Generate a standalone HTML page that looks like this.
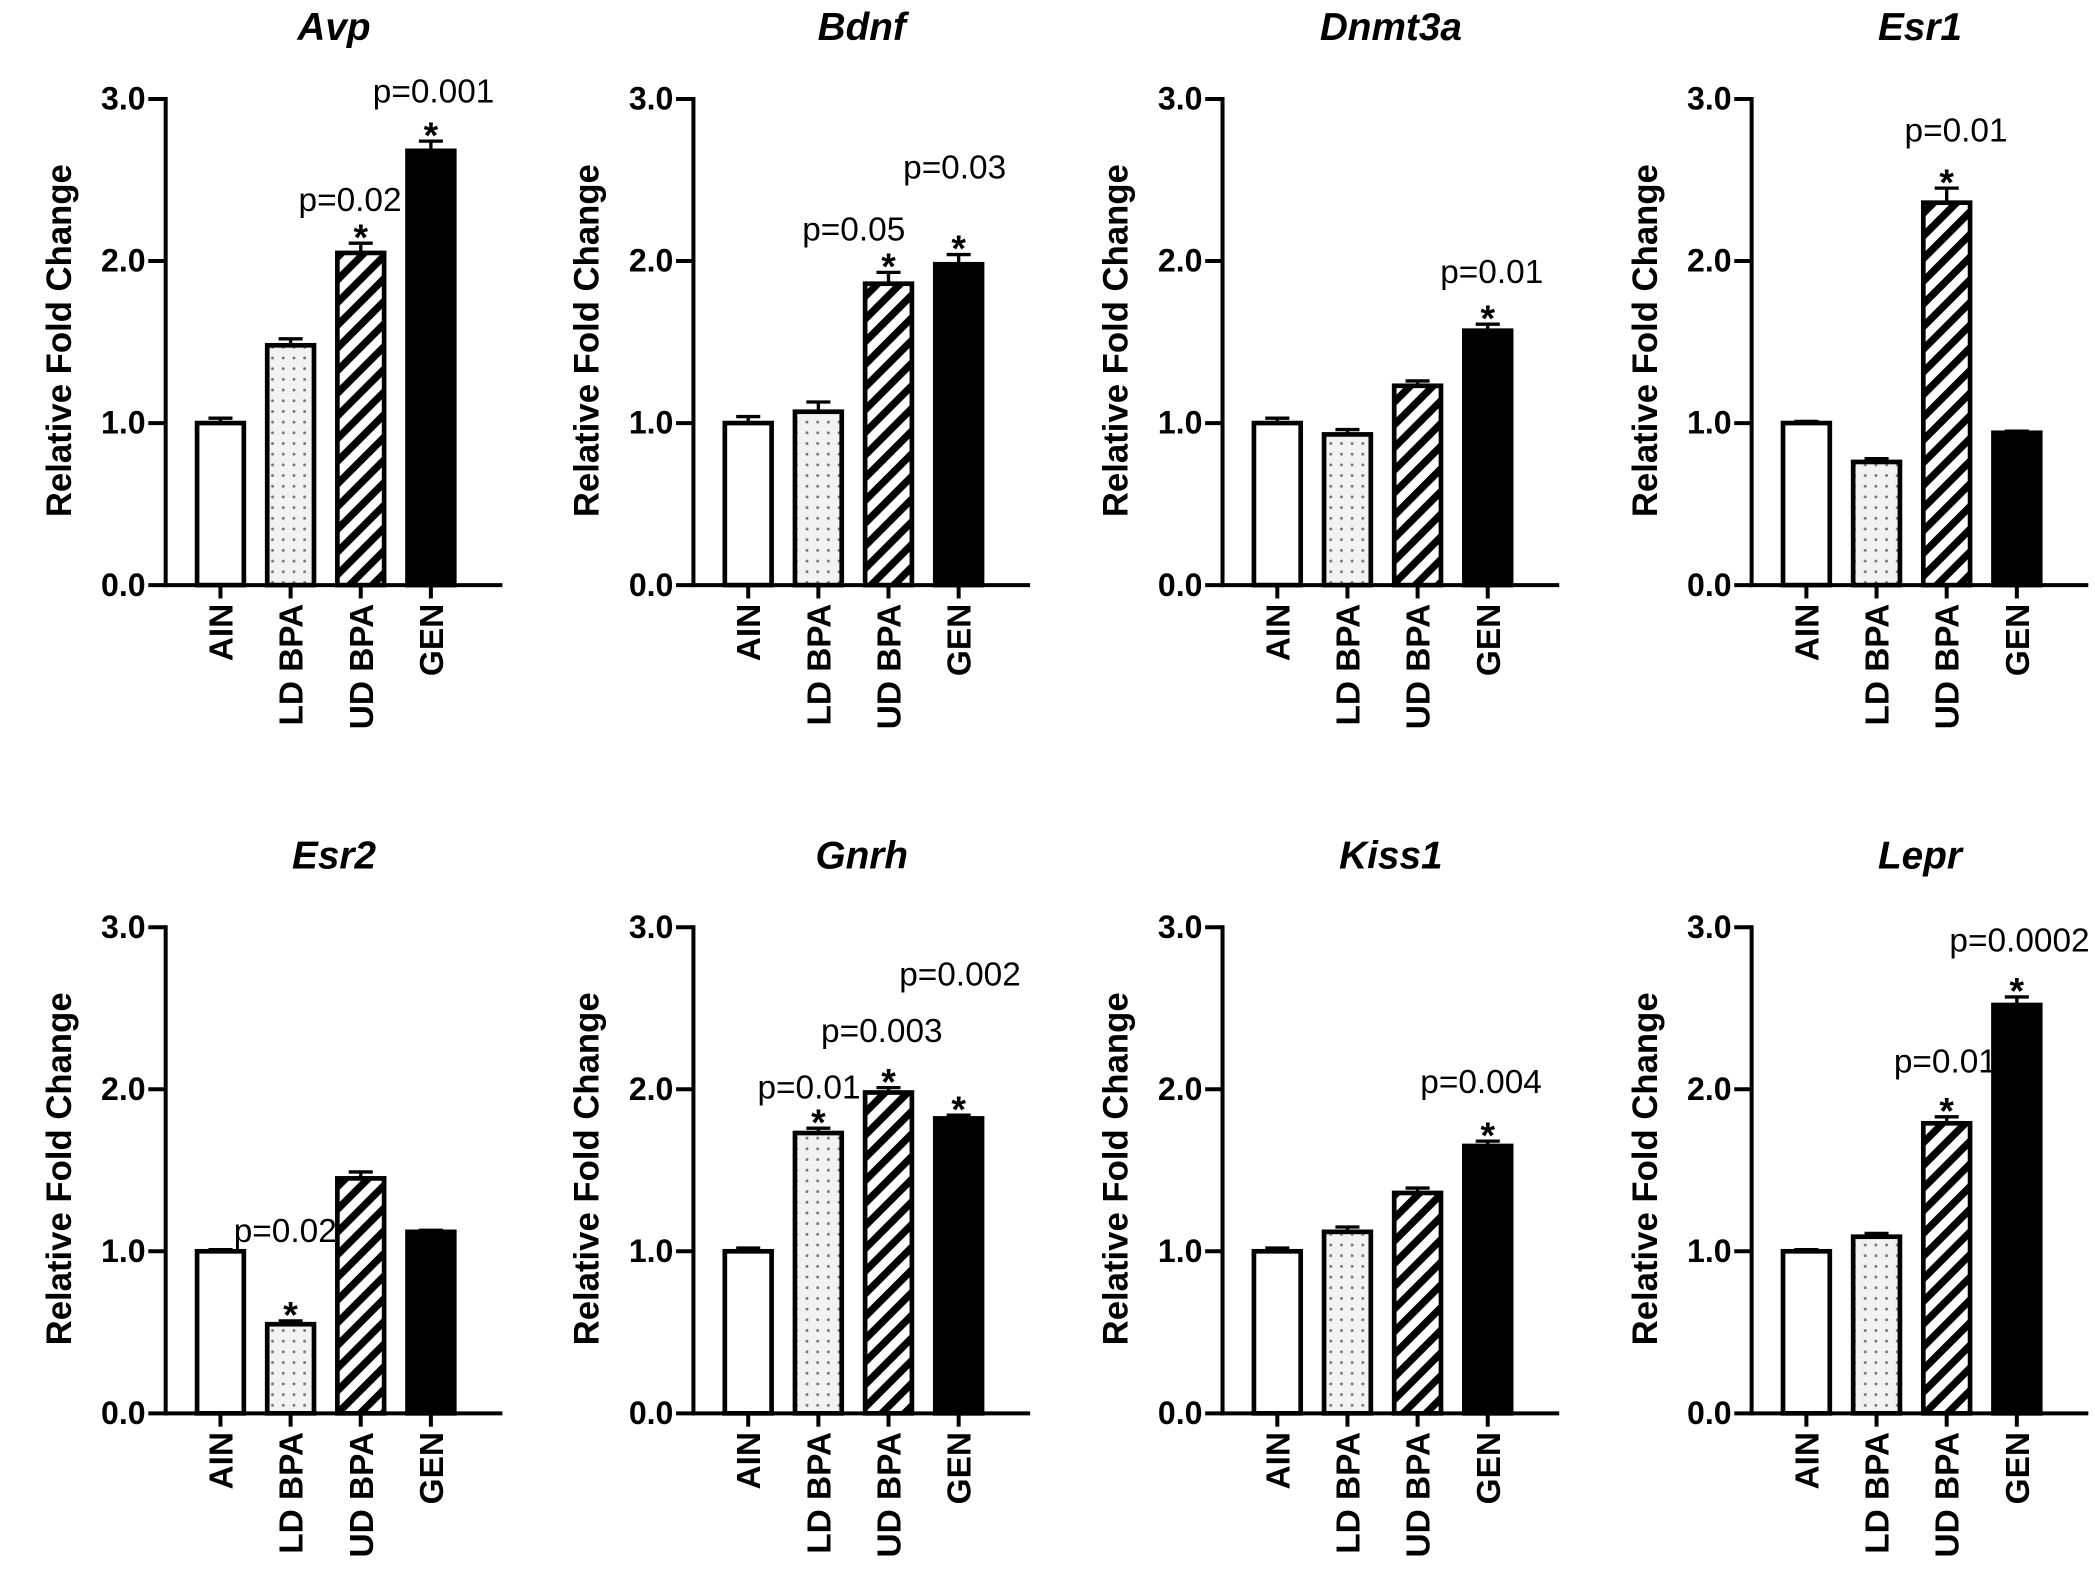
<!DOCTYPE html>
<html><head><meta charset="utf-8"><style>
html,body{margin:0;padding:0;background:#fff;}
svg{display:block;}
text{font-family:"Liberation Sans",Arial,sans-serif;}
</style></head><body>
<svg id="fig" width="2095" height="1587" viewBox="0 0 1568 1188" preserveAspectRatio="none" xmlns="http://www.w3.org/2000/svg">
<defs>
<pattern id="dots" width="8" height="8" patternUnits="userSpaceOnUse">
<rect width="8" height="8" fill="#f2f2f2"/><circle cx="4" cy="4" r="1.1" fill="#777"/>
</pattern>
<pattern id="stripes" width="12" height="12" patternUnits="userSpaceOnUse" patternTransform="rotate(45)">
<rect width="12" height="12" fill="#fff"/><rect x="0" y="0" width="5.5" height="12" fill="#000"/>
</pattern>
</defs>
</svg>
<script>
const genes = ["Avp","Bdnf","Dnmt3a","Esr1","Esr2","Gnrh","Kiss1","Lepr"];
const groups = ["AIN","LD BPA","UD BPA","GEN"];
const yTicks = [0,1,2,3];
const yTickLabels = ["0.0","1.0","2.0","3.0"];
const meanAvp = [1.0,1.48,2.05,2.68];
const meanBdnf = [1.0,1.07,1.86,1.98];
const meanDnmt3a = [1.0,0.93,1.23,1.57];
const meanEsr1 = [1.0,0.76,2.36,0.94];
const meanEsr2 = [1.0,0.55,1.45,1.12];
const meanGnrh = [1.0,1.73,1.98,1.82];
const meanKiss1 = [1.0,1.12,1.36,1.65];
const meanLepr = [1.0,1.09,1.79,2.52];
const errAvp = [0.03,0.04,0.06,0.06];
const errBdnf = [0.04,0.06,0.07,0.06];
const errDnmt3a = [0.03,0.03,0.03,0.04];
const errEsr1 = [0.01,0.02,0.09,0.01];
const errEsr2 = [0.01,0.02,0.04,0.01];
const errGnrh = [0.02,0.03,0.03,0.02];
const errKiss1 = [0.02,0.03,0.03,0.03];
const errLepr = [0.01,0.02,0.04,0.05];
const pAvp = ["","","p=0.02","p=0.001"];
const pBdnf = ["","","p=0.05","p=0.03"];
const pDnmt3a = ["","","","p=0.01"];
const pEsr1 = ["","","p=0.01",""];
const pEsr2 = ["","p=0.02","",""];
const pGnrh = ["","p=0.01","p=0.003","p=0.002"];
const pKiss1 = ["","","","p=0.004"];
const pLepr = ["","","p=0.01","p=0.0002"];
const means = [meanAvp,meanBdnf,meanDnmt3a,meanEsr1,meanEsr2,meanGnrh,meanKiss1,meanLepr];
const errs = [errAvp,errBdnf,errDnmt3a,errEsr1,errEsr2,errGnrh,errKiss1,errLepr];
const pvals = [pAvp,pBdnf,pDnmt3a,pEsr1,pEsr2,pGnrh,pKiss1,pLepr];
// p-label layout offsets (px)
const pLift = [[0,0,16,21],[0,0,16,49],[0,0,0,23],[0,0,27,0],[0,51,0,0],[0,14,26,89],[0,0,0,28],[0,0,25,26]];
const pDx = [[0,0,-8,2],[0,0,-26,-3],[0,0,0,3],[0,0,7,0],[0,-4,0,0],[0,-7,-5,1],[0,0,0,-5],[0,0,-1,2]];

const NS = "http://www.w3.org/2000/svg";
const svg = document.getElementById('fig');
function el(tag, attrs, parent, txt){
  const e = document.createElementNS(NS, tag);
  for (const k in attrs) e.setAttribute(k, attrs[k]);
  if (txt !== undefined) e.textContent = txt;
  (parent||svg).appendChild(e);
  return e;
}
const fills = ["#fff","url(#dots)","url(#stripes)","#000"];
const colX = [124,519,915,1311];
const rowY0 = [438,1058];
const unit = 121.3;
const barW = 35;
const firstOff = 41, step = 52.5;

genes.forEach((g, gi) => {
  const ax = colX[gi % 4];
  const y0 = rowY0[Math.floor(gi / 4)];
  const ys = v => y0 - v * unit;
  const xs = i => ax + firstOff + i * step;
  const G = el('g', {});
  
  
  const t = el('text', {x: ax + 126, y: y0 - 408, 'text-anchor':'middle', 'font-size':29, 'font-weight':'bold', 'font-style':'italic'}, G, g);
  
  
  const yt = el('text', {transform:`translate(${ax-71},${y0-183}) rotate(-90)`, 'text-anchor':'middle', 'font-size':26, 'font-weight':'bold'}, G, 'Relative Fold Change');
  
  
  const ya = el('line', {x1:ax, y1:ys(3)-1.5, x2:ax, y2:y0+1.5, stroke:'#000','stroke-width':3}, G);
  
  
  const xa = el('line', {x1:ax-1.5, y1:y0, x2:ax+252, y2:y0, stroke:'#000','stroke-width':3}, G);
  
  
  yTicks.forEach((v, i) => {
    el('line', {x1:ax-13, y1:ys(v), x2:ax, y2:ys(v), stroke:'#000','stroke-width':3}, G);
    const tl = el('text', {x: ax-15, y: ys(v)+8, 'text-anchor':'end', 'font-size':24, 'font-weight':'bold'}, G, yTickLabels[i]);
    
    
  });
  groups.forEach((grp, i) => {
    const cx = xs(i);
    const v = means[gi][i], e = errs[gi][i];
    el('line', {x1:cx, y1:y0, x2:cx, y2:y0+10, stroke:'#000','stroke-width':3}, G);
    const xl = el('text', {transform:`translate(${cx+9},${y0+14}) rotate(-90)`, 'text-anchor':'end', 'font-size':25, 'font-weight':'bold'}, G, grp);
    
    
    const eb = el('path', {d:`M${cx},${ys(v)} V${ys(v+e)} M${cx-9},${ys(v+e)} H${cx+9}`, stroke:'#000','stroke-width':2.5, fill:'none'}, G);
    
    
    const b = el('rect', {x: cx-barW/2, y: ys(v), width: barW, height: y0 - ys(v), fill: fills[i], stroke:'#000','stroke-width':3.5}, G);
    
    
    const p = pvals[gi][i];
    if (p) {
      const sy = ys(v+e) - 2;
      const st = el('text', {x: cx, y: sy + 7, 'text-anchor':'middle', 'font-size':28, 'font-weight':'bold'}, G, '*');
      
      
      const pt = el('text', {x: cx + pDx[gi][i], y: sy - 6 - pLift[gi][i], 'text-anchor':'middle', 'font-size':25}, G, p);
      
      
    }
  });
});
</script>
</body></html>
